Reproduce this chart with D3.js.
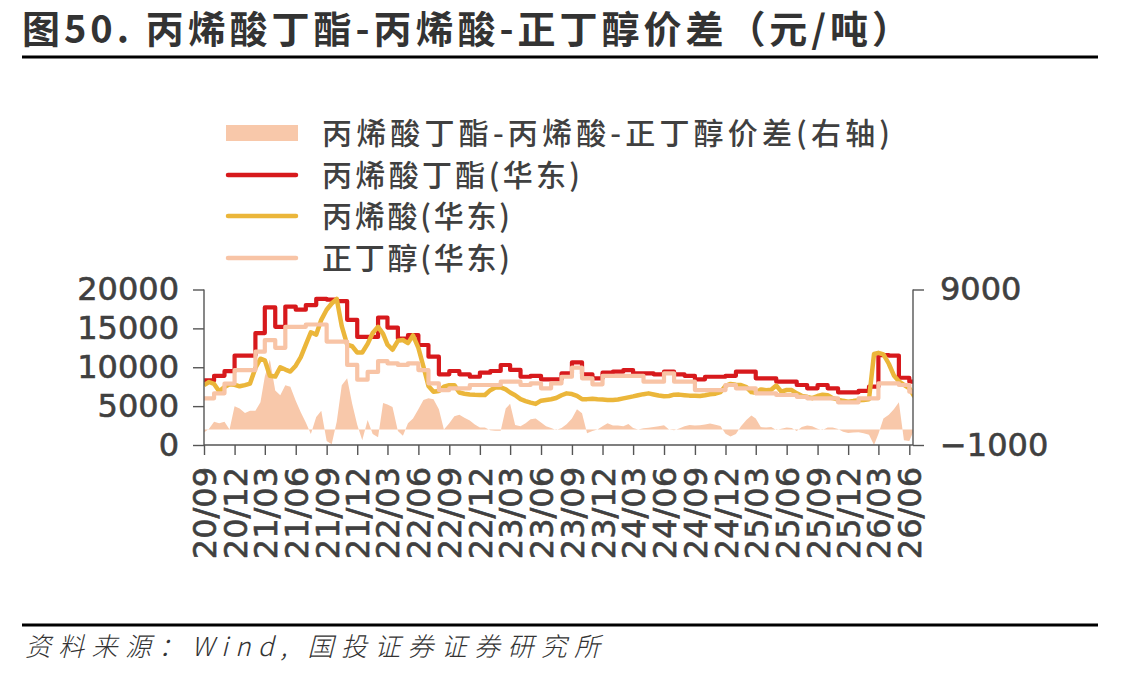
<!DOCTYPE html>
<html><head><meta charset="utf-8">
<script src="https://cdn.jsdelivr.net/npm/d3@7"></script>
<style>body{margin:0;background:#fff}</style>
</head><body>
<svg id="c" width="1147" height="678"></svg>
<script>
// ---------- DATA ----------
const title = "图50. 丙烯酸丁酯-丙烯酸-正丁醇价差（元/吨）";
const source = "资料来源：Wind, 国投证券证券研究所";
const seriesNames = ["丙烯酸丁酯-丙烯酸-正丁醇价差(右轴)", "丙烯酸丁酯(华东)", "丙烯酸(华东)", "正丁醇(华东)"];
const xTickLabels = ["20/09","20/12","21/03","21/06","21/09","21/12","22/03","22/06","22/09","22/12",
  "23/03","23/06","23/09","23/12","24/03","24/06","24/09","24/12","25/03","25/06","25/09","25/12","26/03","26/06"];
const leftTicks = [0, 5000, 10000, 15000, 20000];
const rightTicks = [-1000, 9000];
const firstMonth = "2020-09-01";
const lastDate = "2026-06-12";

// monthly series (from 2020-09), stepped
const butylAcrylate = [8300,8900,9500,11500,11500,14400,17700,15200,17800,17400,
 18000,18800,18700,18500,16100,13900,13900,16400,15100,13700,
 14150,12860,11360,9090,9520,9090,8780,9300,9520,10290,
 9650,8780,8900,8450,8450,9220,10630,9090,8570,9300,
 9430,9640,9220,9220,9090,9430,9090,8900,8450,8780,
 8780,8900,9430,9430,8570,8570,8140,8140,7720,7290,
 7720,7290,6780,6780,6950,7500,11570,11500,8650,8140];
const nButanol = [6000,6650,7900,9640,9640,12000,13500,12500,15200,15200,
 15500,15500,13300,13300,10300,8400,9400,10800,10500,10300,
 10500,9640,7930,7070,7290,7290,7720,7720,7720,8140,
 8140,7720,7930,7290,7930,8780,9950,8570,7800,8900,
 8900,8900,8900,8140,8140,9220,8140,8140,7070,7070,
 7070,7720,7290,7290,6650,6650,6430,6430,6200,6000,
 6000,6000,5490,5490,6000,6000,7930,7930,7720,6860];
// semi-monthly series (1st and 16th of each month from 2020-09)
const acrylicAcid = [7700,8100,7850,6900,7450,7800,7750,7550,7700,7900,
 9900,11100,10900,8900,8800,10000,9700,9450,10200,11300,
 12900,14500,14200,16100,17400,18200,18800,15300,12900,12700,
 11900,11900,13000,14400,15200,14300,12900,12250,13400,13500,
 13100,14100,12500,10100,7600,6850,6950,7500,7700,7700,
 6750,6600,6500,6450,6430,6430,7050,7400,7400,7150,
 6750,6400,5900,5650,5450,5280,5700,5790,5880,6050,
 6400,6640,6550,6320,5900,5900,5950,5890,5850,5800,
 5800,5850,6000,6130,6250,6400,6540,6640,6500,6370,
 6260,6300,6470,6480,6410,6350,6320,6300,6400,6530,
 6600,6800,7600,7850,7750,7720,7450,6800,6700,7150,
 7050,7100,7650,6870,7070,7070,6650,6320,6200,6020,
 6300,6470,6400,6020,5840,5680,5580,5650,5760,5790,
 5880,11700,11850,11650,10450,8950,8200,7750,7300,6220];
const spread = [-200,50,500,400,500,0,1500,1350,1050,1200,
 1200,1750,3400,4500,2500,2200,2850,2750,1850,1100,
 450,-300,800,1200,-750,-950,500,2850,3300,1650,
 300,-700,600,-300,-500,1700,1600,1450,-100,-400,
 400,700,1300,1900,2000,1950,1300,0,400,850,
 950,750,580,320,120,120,-50,-80,-80,1350,
 1650,290,200,400,650,700,450,200,100,-30,
 100,330,700,1300,1040,-250,-100,0,200,400,
 250,250,200,350,100,0,80,110,160,210,
 270,0,-50,60,210,290,250,270,320,390,
 300,220,-280,-450,-300,200,600,900,700,150,
 120,150,-30,50,130,100,-100,150,250,200,
 50,-30,130,120,30,-150,-230,-200,-180,-250,
 -340,-1000,-300,700,950,1300,1750,-700,-750,-200];

// ---------- CHART ----------
const colors = {spread:"#F8C8AA", ba:"#D7191C", aa:"#EBB63A", nba:"#F8C4A6"};
const axisColor = "#555", textColor = "#404040";
const svg = d3.select("#c");
const parse = d3.timeParse("%Y-%m-%d");
const start = parse(firstMonth), end = parse(lastDate);
const monthlyDates = butylAcrylate.map((_, i) => d3.timeMonth.offset(start, i));
const halfDates = acrylicAcid.map((_, i) => {
  const d = d3.timeMonth.offset(start, Math.floor(i / 2));
  return i % 2 ? d3.timeDay.offset(d, 15) : d;
});
const tickDates = xTickLabels.map(s => new Date(2000 + +s.slice(0,2), +s.slice(3) - 1, 1));

const plot = {l:204, r:913, t:289.5, b:445};
const x = d3.scaleTime().domain([start, end]).range([plot.l, plot.r]);
const yL = d3.scaleLinear().domain([0, 20000]).range([plot.b, plot.t]);
const yR = d3.scaleLinear().domain([-1000, 9000]).range([plot.b, plot.t]);

svg.append("defs").append("clipPath").attr("id","clip")
  .append("rect").attr("x", plot.l).attr("y", plot.t - 10).attr("width", plot.r - plot.l).attr("height", plot.b - plot.t + 10);

const g = svg.append("g").attr("clip-path","url(#clip)");

// spread area
const spreadData = spread.map((v, i) => [halfDates[i], v]).filter(d => d[0] <= end);
spreadData.push([end, spread[spread.length - 1]]);
g.append("path").datum(spreadData)
  .attr("fill", colors.spread)
  .attr("d", d3.area().x(d => x(d[0])).y0(yR(0)).y1(d => yR(Math.max(-1000, d[1]))));

function stepData(vals) {
  const arr = vals.map((v, i) => [monthlyDates[i], v]);
  arr.push([end, vals[vals.length - 1]]);
  return arr;
}
const stepLine = d3.line().x(d => x(d[0])).y(d => yL(d[1])).curve(d3.curveStepAfter);
g.append("path").datum(stepData(butylAcrylate))
  .attr("fill","none").attr("stroke", colors.ba).attr("stroke-width", 4.2).attr("stroke-linejoin","round")
  .attr("d", stepLine);
const aaData = acrylicAcid.map((v, i) => [halfDates[i], v]);
g.append("path").datum(aaData)
  .attr("fill","none").attr("stroke", colors.aa).attr("stroke-width", 4.5).attr("stroke-linejoin","round")
  .attr("d", d3.line().x(d => x(d[0])).y(d => yL(d[1])));
g.append("path").datum(stepData(nButanol))
  .attr("fill","none").attr("stroke", colors.nba).attr("stroke-width", 4.2).attr("stroke-linejoin","round")
  .attr("d", stepLine);

// axes
const numFont = "'DejaVu Sans', sans-serif";
const leftAxis = svg.append("g").attr("transform", `translate(${plot.l},0)`)
  .call(d3.axisLeft(yL).tickValues(leftTicks).tickFormat(d3.format("d")).tickSize(11).tickSizeOuter(0).tickPadding(14));
const rightAxis = svg.append("g").attr("transform", `translate(${plot.r},0)`)
  .call(d3.axisRight(yR).tickValues(rightTicks).tickFormat(d => d < 0 ? "\u2212" + Math.abs(d) : String(d)).tickSize(11).tickSizeOuter(0).tickPadding(16));
const bottomAxis = svg.append("g").attr("transform", `translate(0,${plot.b})`)
  .call(d3.axisBottom(x).tickValues(tickDates).tickFormat((d, i) => xTickLabels[i]).tickSize(10).tickSizeOuter(0));
[leftAxis, rightAxis, bottomAxis].forEach(a => {
  a.selectAll("path.domain").attr("stroke", axisColor).attr("stroke-width", 1.4);
  a.selectAll(".tick line").attr("stroke", axisColor).attr("stroke-width", 1.4);
  a.selectAll("text").attr("fill", textColor).attr("stroke", textColor).attr("stroke-width", 0.6)
    .style("font-family", numFont).style("font-size", "32px");
});
bottomAxis.selectAll("text")
  .attr("transform", "rotate(-90)")
  .attr("x", -22).attr("y", 0).attr("dy", "0.36em")
  .style("text-anchor", "end");
leftAxis.select("path.domain").attr("d", `M0,${plot.t}V${plot.b}`);
rightAxis.select("path.domain").attr("d", `M0,${plot.t}V${plot.b}`);
bottomAxis.select("path.domain").attr("d", `M${plot.l},0H${plot.r}`);

// title & rules
const cjk = "'Noto Sans CJK SC', sans-serif";
svg.append("text").attr("x", 22).attr("y", 43).text(title)
  .attr("fill", "#333").style("font-family", cjk).style("font-weight", "bold").style("font-size", "38px")
  .attr("textLength", 888).attr("lengthAdjust", "spacing");
svg.append("line").attr("x1", 22).attr("x2", 1098).attr("y1", 57).attr("y2", 57).attr("stroke", "#000").attr("stroke-width", 3);
svg.append("line").attr("x1", 22).attr("x2", 1098).attr("y1", 625).attr("y2", 625).attr("stroke", "#000").attr("stroke-width", 3);
svg.append("text").attr("x", 25).attr("y", 656).text(source)
  .attr("fill", "#333").style("font-family", cjk).style("font-style", "italic").style("font-weight", "300").style("font-size", "26px")
  .attr("textLength", 575).attr("lengthAdjust", "spacing");

// legend
const legRows = [133, 175, 216, 258];
const legWidths = [568, 258, 188, 188];
const leg = svg.append("g");
seriesNames.forEach((name, i) => {
  const y = legRows[i];
  if (i === 0) {
    leg.append("rect").attr("x", 226).attr("y", y - 8).attr("width", 72).attr("height", 16).attr("fill", colors.spread);
  } else {
    const c = [null, colors.ba, colors.aa, colors.nba][i];
    leg.append("line").attr("x1", 228).attr("x2", 296).attr("y1", y).attr("y2", y)
      .attr("stroke", c).attr("stroke-width", 4.5).attr("stroke-linecap", "round");
  }
  leg.append("text").attr("x", 322).attr("y", y).attr("dy", "0.36em").text(name)
    .attr("fill", textColor).style("font-family", cjk).style("font-weight", "500").style("font-size", "30px")
    .attr("textLength", legWidths[i]).attr("lengthAdjust", "spacing");
});
</script>
</body></html>
